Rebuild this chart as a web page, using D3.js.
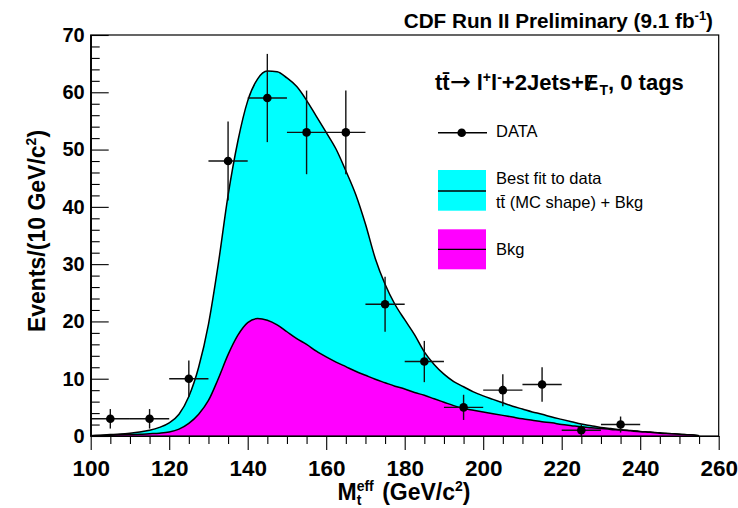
<!DOCTYPE html>
<html>
<head>
<meta charset="utf-8">
<script src="https://cdn.jsdelivr.net/npm/d3@7"></script>
<style>
  body { margin: 0; background: #fff; }
  text { font-family: "Liberation Sans", Arial, Helvetica, sans-serif; fill: #000; }
</style>
</head>
<body>
<svg id="chart" width="738" height="508"></svg>
<script>
// Observed events per 10 GeV/c^2 bin
const binCenters = [105, 115, 125, 135, 145, 155, 165, 175, 185, 195, 205, 215, 225, 235];
const counts     = [3, 3, 10, 48, 59, 53, 53, 23, 13, 5, 8, 9, 1, 2];
const countErrs  = [1.7, 1.7, 3.2, 6.9, 7.7, 7.3, 7.3, 4.8, 3.6, 2.2, 2.8, 3.0, 1.0, 1.4];
const binHalfWidth = 5;

// Fitted templates sampled on a fine mass grid
const massGrid = [100, 102.5, 105, 107.5, 110, 112.5, 115, 117.5, 120, 122.5, 125, 127.5,
  130, 132.5, 135, 137.5, 140, 142.5, 145, 147.5, 150, 152.5, 155, 157.5, 160, 162.5,
  165, 167.5, 170, 172.5, 175, 177.5, 180, 182.5, 185, 187.5, 190, 192.5, 195, 197.5,
  200, 202.5, 205, 207.5, 210, 212.5, 215, 217.5, 220, 222.5, 225, 227.5, 230, 232.5,
  235, 237.5, 240, 242.5, 245, 247.5, 250, 252.5, 255];
// ttbar (MC shape) + background, best fit
const fitTotal = [0.05, 0.15, 0.25, 0.35, 0.5, 0.7, 1.0, 1.5, 2.3, 3.8, 6.9, 12.0,
  19.5, 30.0, 42.0, 51.5, 58.5, 62.3, 63.7, 63.6, 62.5, 61.0, 58.6, 55.8, 53.0, 50.1,
  46.3, 42.2, 37.0, 31.0, 26.5, 23.0, 20.3, 17.7, 14.7, 12.5, 10.8, 9.5, 8.6, 7.7,
  7.0, 6.4, 5.8, 5.2, 4.7, 4.2, 3.8, 3.3, 2.9, 2.5, 2.1, 1.8, 1.5, 1.3,
  1.1, 0.95, 0.8, 0.7, 0.55, 0.45, 0.3, 0.2, 0.05];
// background only
const fitBkg = [0.05, 0.1, 0.15, 0.2, 0.25, 0.3, 0.4, 0.5, 0.7, 1.2, 2.2, 3.8,
  6.2, 10.0, 14.2, 17.6, 19.8, 20.5, 20.2, 19.4, 18.2, 17.0, 16.0, 14.8, 13.8, 12.9,
  12.1, 11.3, 10.6, 9.9, 9.3, 8.7, 8.2, 7.6, 7.1, 6.5, 5.9, 5.3, 4.8, 4.5,
  4.2, 3.9, 3.6, 3.3, 3.0, 2.75, 2.5, 2.3, 2.0, 1.8, 1.6, 1.45, 1.3, 1.15,
  1.05, 0.9, 0.75, 0.65, 0.5, 0.4, 0.3, 0.2, 0.05];

const xMajorTicks = [100, 120, 140, 160, 180, 200, 220, 240, 260];
const xMinorTicks = [105, 110, 115, 125, 130, 135, 145, 150, 155, 165, 170, 175, 185, 190, 195,
  205, 210, 215, 225, 230, 235, 245, 250, 255];
const yMajorTicks = [0, 10, 20, 30, 40, 50, 60, 70];
const yMinorTicks = [2, 4, 6, 8, 12, 14, 16, 18, 22, 24, 26, 28, 32, 34, 36, 38, 42, 44, 46, 48,
  52, 54, 56, 58, 62, 64, 66, 68];

const CYAN = "#00ffff", MAGENTA = "#ff00ff";
const frame = { left: 90.7, right: 718.7, top: 35, bottom: 436 };

const svg = d3.select("#chart");
const x = d3.scaleLinear().domain([100, 260]).range([frame.left, frame.right]);
const y = d3.scaleLinear().domain([0, 70]).range([frame.bottom, frame.top]);

const totalPts = massGrid.map((m, i) => ({ m, v: fitTotal[i] }));
const bkgPts = massGrid.map((m, i) => ({ m, v: fitBkg[i] }));

const area = d3.area().x(d => x(d.m)).y0(y(0)).y1(d => y(d.v)).curve(d3.curveMonotoneX);
const line = d3.line().x(d => x(d.m)).y(d => y(d.v)).curve(d3.curveMonotoneX);

// Stacked fit: full fit in cyan, background on top in magenta
svg.append("path").attr("d", area(totalPts)).attr("fill", CYAN);
svg.append("path").attr("d", line(totalPts)).attr("fill", "none").attr("stroke", "#000").attr("stroke-width", 1.5);
svg.append("path").attr("d", area(bkgPts)).attr("fill", MAGENTA);
svg.append("path").attr("d", line(bkgPts)).attr("fill", "none").attr("stroke", "#000").attr("stroke-width", 1.5);

// Data points with statistical and bin-width error bars
const data = binCenters.map((c, i) => ({ c, n: counts[i], e: countErrs[i] }));
const pts = svg.append("g").attr("stroke", "#111").attr("stroke-width", 1.4);
pts.selectAll("line.v").data(data).join("line").attr("class", "v")
  .attr("x1", d => x(d.c)).attr("x2", d => x(d.c))
  .attr("y1", d => y(Math.max(0, d.n - d.e))).attr("y2", d => y(d.n + d.e));
pts.selectAll("line.h").data(data).join("line").attr("class", "h")
  .attr("x1", d => x(d.c - binHalfWidth)).attr("x2", d => x(d.c + binHalfWidth))
  .attr("y1", d => y(d.n)).attr("y2", d => y(d.n));
svg.selectAll("circle.pt").data(data).join("circle").attr("class", "pt")
  .attr("cx", d => x(d.c)).attr("cy", d => y(d.n)).attr("r", 4.3).attr("fill", "#000");

// Frame
svg.append("rect").attr("x", frame.left).attr("y", frame.top)
  .attr("width", frame.right - frame.left).attr("height", frame.bottom - frame.top)
  .attr("fill", "none").attr("stroke", "#000").attr("stroke-width", 1.2);

// X axis: ticks hang below the frame
const xAxis = svg.append("g").attr("transform", `translate(0,${frame.bottom})`)
  .call(d3.axisBottom(x).tickValues(xMajorTicks).tickSize(14).tickSizeOuter(0).tickPadding(10).tickFormat(d3.format("d")));
svg.append("g").attr("transform", `translate(0,${frame.bottom})`)
  .call(d3.axisBottom(x).tickValues(xMinorTicks).tickSize(8).tickSizeOuter(0).tickFormat(""));
xAxis.selectAll("text").attr("font-size", 22.5).attr("font-weight", "bold")
  .attr("font-family", '"Liberation Sans", Arial, sans-serif');

// Y axis: ticks point into the frame
const yAxis = svg.append("g").attr("transform", `translate(${frame.left},0)`)
  .call(d3.axisLeft(y).tickValues(yMajorTicks).tickSize(-18).tickSizeOuter(0).tickPadding(6).tickFormat(d3.format("d")));
svg.append("g").attr("transform", `translate(${frame.left},0)`)
  .call(d3.axisLeft(y).tickValues(yMinorTicks).tickSize(-9).tickSizeOuter(0).tickFormat(""));
yAxis.selectAll("text").attr("font-size", 20).attr("font-weight", "bold")
  .attr("font-family", '"Liberation Sans", Arial, sans-serif');
svg.selectAll(".domain").attr("stroke", "#000").attr("stroke-width", 1.2);
svg.selectAll(".tick line").attr("stroke", "#000").attr("stroke-width", 1.1);

// Axis titles
const xt = svg.append("text").attr("x", 404).attr("y", 500).attr("text-anchor", "middle")
  .attr("font-size", 23).attr("font-weight", "bold");
xt.append("tspan").text("M");
xt.append("tspan").attr("font-size", 14).attr("dy", 5).text("t");
xt.append("tspan").attr("font-size", 14).attr("dx", -4.7).attr("dy", -14).text("eff");
xt.append("tspan").attr("dx", 2).attr("dy", 9).text(" (GeV/c");
xt.append("tspan").attr("font-size", 14).attr("dy", -9).text("2");
xt.append("tspan").attr("dy", 9).text(")");

const yt = svg.append("text").attr("transform", "translate(45,231) rotate(-90)")
  .attr("text-anchor", "middle").attr("font-size", 23).attr("font-weight", "bold");
yt.append("tspan").text("Events/(10 GeV/c");
yt.append("tspan").attr("font-size", 14).attr("dy", -9).text("2");
yt.append("tspan").attr("dy", 9).text(")");

// Header
const hd = svg.append("text").attr("x", 713).attr("y", 28).attr("text-anchor", "end")
  .attr("font-size", 20.7).attr("font-weight", "bold");
hd.append("tspan").text("CDF Run II Preliminary (9.1 fb");
hd.append("tspan").attr("font-size", 13).attr("dy", -8).text("-1");
hd.append("tspan").attr("dy", 8).text(")");

// Channel label
const fs = 22;
const ch = svg.append("text").attr("x", 435).attr("y", 90).attr("font-size", fs).attr("font-weight", "bold");
ch.append("tspan").text("tt\u0304");
ch.append("tspan").attr("font-family", '"DejaVu Sans", sans-serif').attr("font-weight", "normal")
  .attr("font-size", 25).text("\u2192");
ch.append("tspan").text(" l");
ch.append("tspan").attr("font-size", 14).attr("dy", -8).text("+");
ch.append("tspan").attr("dy", 8).text("l");
ch.append("tspan").attr("font-size", 14).attr("dy", -8).text("-");
ch.append("tspan").attr("dy", 8).text("+2Jets+E");
ch.append("tspan").attr("font-weight", "normal").attr("dx", -0.667 * fs + 3).attr("dy", 1).text("/");
ch.append("tspan").attr("font-size", 14).attr("dx", 0.667 * fs - 3 - 0.278 * fs + 1).attr("dy", 4).text("T");
ch.append("tspan").attr("dy", -5).text(", 0 tags");

// Legend
const lg = svg.append("g");
const legendFont = 16.5;
lg.append("line").attr("x1", 438).attr("x2", 487).attr("y1", 132.7).attr("y2", 132.7)
  .attr("stroke", "#000").attr("stroke-width", 1.4);
lg.append("circle").attr("cx", 461.7).attr("cy", 132.7).attr("r", 4.3).attr("fill", "#000");
lg.append("text").attr("x", 496).attr("y", 137).attr("font-size", legendFont).text("DATA");

lg.append("rect").attr("x", 438).attr("y", 170).attr("width", 48).attr("height", 40.7).attr("fill", CYAN);
lg.append("line").attr("x1", 438).attr("x2", 486).attr("y1", 191).attr("y2", 191)
  .attr("stroke", "#000").attr("stroke-width", 1.3);
lg.append("text").attr("x", 496).attr("y", 184).attr("font-size", legendFont).text("Best fit to data");
lg.append("text").attr("x", 496).attr("y", 208).attr("font-size", legendFont).text("tt\u0304 (MC shape) + Bkg");

lg.append("rect").attr("x", 438).attr("y", 229.3).attr("width", 48).attr("height", 40).attr("fill", MAGENTA);
lg.append("line").attr("x1", 438).attr("x2", 486).attr("y1", 249.3).attr("y2", 249.3)
  .attr("stroke", "#000").attr("stroke-width", 1.3);
lg.append("text").attr("x", 496).attr("y", 255).attr("font-size", legendFont).text("Bkg");
</script>
</body>
</html>
